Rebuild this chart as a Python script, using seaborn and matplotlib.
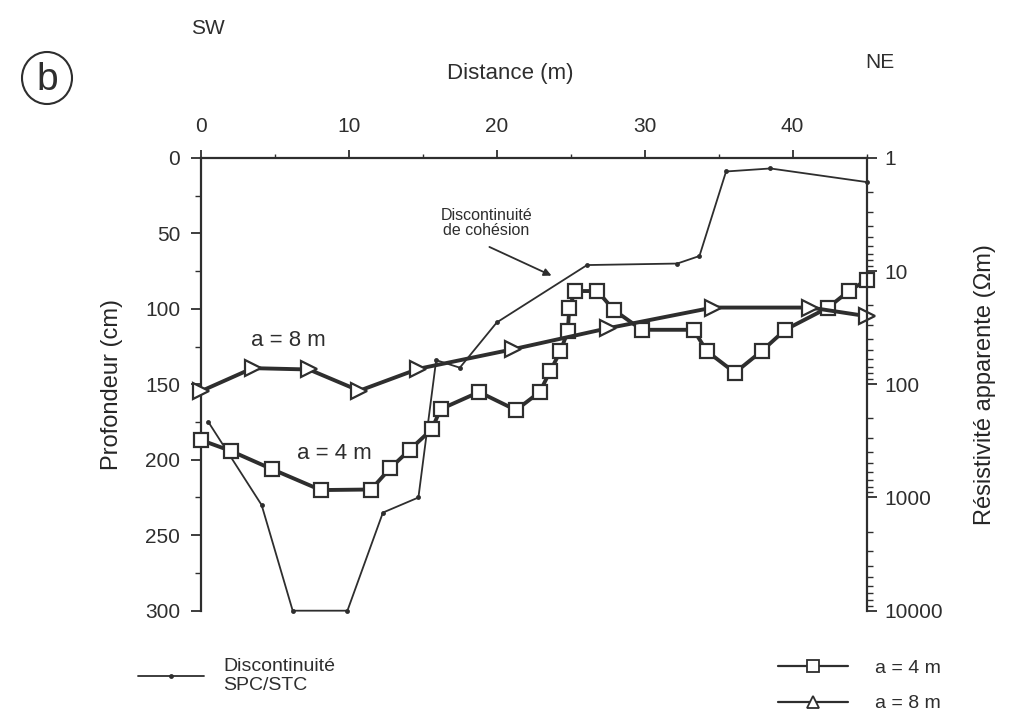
import matplotlib
matplotlib.use("Agg")
import matplotlib.pyplot as plt
import seaborn as sns
from matplotlib.lines import Line2D
from matplotlib.patches import Ellipse
from matplotlib.ticker import MultipleLocator, LogLocator, NullFormatter, FixedLocator

# --- data ---
# discontinuité SPC/STC (depth, cm) along the profile
disc_x = [0.5, 4.1, 6.2, 9.9, 12.3, 14.7, 15.9, 17.5, 20.0, 26.1, 32.2, 33.7, 35.5, 38.5, 45.0]
disc_depth = [175, 230, 300, 300, 235, 225, 134, 139, 109, 71, 70, 65, 9, 7, 16]

# apparent resistivity (ohm.m), Wenner a = 4 m
a4_x = [0, 2.0, 4.8, 8.1, 11.5, 12.8, 14.1, 15.6, 16.2, 18.8, 21.3, 22.9, 23.6, 24.3,
        24.8, 24.9, 25.3, 26.8, 27.9, 29.8, 33.3, 34.2, 36.1, 37.9, 39.5, 42.4, 43.8, 45.0]
a4_rho = [311, 387, 562, 860, 850, 550, 380, 250, 166, 117, 169, 117, 77, 51,
          34, 21, 15, 15, 22, 33, 33, 51, 79, 51, 33, 21, 15, 12]

# apparent resistivity (ohm.m), a = 8 m
a8_x = [0, 3.5, 7.3, 10.7, 14.7, 21.1, 27.5, 34.6, 41.2, 45.0]
a8_rho = [115, 72, 74, 114, 73, 49, 32, 21, 21, 25]

dist_ticks = [0, 10, 20, 30, 40]
depth_ticks = [0, 50, 100, 150, 200, 250, 300]
rho_ticks = [1, 10, 100, 1000, 10000]

ink = "#2e2e2e"

sns.set_theme(style="white")
plt.rcParams["font.family"] = ["Liberation Sans", "DejaVu Sans"]
plt.rcParams["text.color"] = ink
plt.rcParams["axes.edgecolor"] = ink
plt.rcParams["xtick.color"] = ink
plt.rcParams["ytick.color"] = ink

fig = plt.figure(figsize=(10.10, 7.21), dpi=100)
ax = fig.add_axes([0.199, 0.153, 0.659, 0.628])
ax2 = ax.twinx()

# discontinuity line on depth axis
sns.lineplot(x=disc_x, y=disc_depth, ax=ax, sort=False, estimator=None, color=ink,
             linewidth=1.3, marker="o", markersize=3.5, markeredgewidth=0, clip_on=False)

# resistivity on log axis
sns.lineplot(x=a4_x, y=a4_rho, ax=ax2, sort=False, estimator=None, color=ink,
             linewidth=2.8, marker="s", markersize=10, markerfacecolor="white",
             markeredgecolor=ink, markeredgewidth=1.6, clip_on=False)
sns.lineplot(x=a8_x, y=a8_rho, ax=ax2, sort=False, estimator=None, color=ink,
             linewidth=2.8, marker=">", markersize=12, markerfacecolor="white",
             markeredgecolor=ink, markeredgewidth=1.6, clip_on=False)

# left / top axes
ax.set_xlim(0, 45)
ax.set_ylim(300, 0)
ax.xaxis.tick_top()
ax.xaxis.set_major_locator(FixedLocator(dist_ticks))
ax.xaxis.set_minor_locator(MultipleLocator(5))
ax.yaxis.set_major_locator(FixedLocator(depth_ticks))
ax.yaxis.set_minor_locator(MultipleLocator(25))
ax.tick_params(axis="x", which="major", direction="out", length=6, width=1.3, labelsize=15, pad=10)
ax.tick_params(axis="x", which="minor", direction="out", length=3, width=1.0)
ax.tick_params(axis="y", which="major", direction="out", length=7, width=1.3, labelsize=15, pad=8)
ax.tick_params(axis="y", which="minor", direction="out", length=4, width=1.0)
ax.tick_params(left=True, top=True, bottom=False, labelbottom=False, labeltop=True)
for side in ["bottom", "right"]:
    ax.spines[side].set_visible(False)
for side in ["left", "top"]:
    ax.spines[side].set_linewidth(1.6)
ax.set_ylabel("Profondeur (cm)", fontsize=17, labelpad=16)
ax.set_xlabel("")

# right log axis
ax2.set_yscale("log")
ax2.set_ylim(10000, 1)
ax2.yaxis.set_major_locator(FixedLocator(rho_ticks))
ax2.yaxis.set_minor_locator(LogLocator(base=10, subs=range(2, 10)))
ax2.yaxis.set_minor_formatter(NullFormatter())
ax2.set_yticklabels([str(v) for v in rho_ticks])
ax2.tick_params(axis="y", which="major", direction="out", length=7, width=1.3, labelsize=15, pad=6)
ax2.tick_params(axis="y", which="minor", direction="out", length=4, width=1.0)
for side in ["bottom", "left", "top"]:
    ax2.spines[side].set_visible(False)
ax2.spines["right"].set_linewidth(1.6)
ax2.set_ylabel("Résistivité apparente (Ωm)", fontsize=17, labelpad=22)
ax2.grid(False)
ax.grid(False)

# in-plot labels
ax.text(5.9, 121, "a = 8 m", fontsize=16, ha="center", va="center")
ax.text(9.0, 196, "a = 4 m", fontsize=16, ha="center", va="center")
ax.text(19.3, 43, "Discontinuité\nde cohésion", fontsize=11.5, ha="center", va="center",
        linespacing=1.0)
ax.annotate("", xy=(23.7, 78), xytext=(19.5, 59),
            arrowprops=dict(arrowstyle="-|>", color=ink, lw=1.3,
                            shrinkA=0, shrinkB=0, mutation_scale=11))

# header texts
fig.text(208 / 1010, 1 - 28 / 721, "SW", fontsize=15, ha="center", va="center")
fig.text(880 / 1010, 1 - 62 / 721, "NE", fontsize=15, ha="center", va="center")
fig.text(510 / 1010, 1 - 73 / 721, "Distance (m)", fontsize=16, ha="center", va="center")
fig.text(47 / 1010, 1 - 80 / 721, "b", fontsize=28, ha="center", va="center")
fig.add_artist(Ellipse((47 / 1010, 1 - 78 / 721), 50 / 1010, 52 / 721,
                       transform=fig.transFigure, fill=False, edgecolor=ink, linewidth=1.5))

# legends
h_disc = Line2D([], [], color=ink, linewidth=1.3, marker="o", markersize=3.5, markeredgewidth=0)
fig.legend(handles=[h_disc], labels=["Discontinuité\nSPC/STC"],
           loc="center left", bbox_to_anchor=(120 / 1010, 1 - 676 / 721),
           frameon=False, fontsize=14, handlelength=3.4, handletextpad=1.0)

h_a4 = Line2D([], [], color=ink, linewidth=1.6, marker="s", markersize=8,
              markerfacecolor="white", markeredgecolor=ink, markeredgewidth=1.3)
h_a8 = Line2D([], [], color=ink, linewidth=1.6, marker="^", markersize=9,
              markerfacecolor="white", markeredgecolor=ink, markeredgewidth=1.3)
fig.legend(handles=[h_a4, h_a8], labels=["a = 4 m", "a = 8 m"],
           loc="center left", bbox_to_anchor=(760 / 1010, 1 - 686 / 721),
           frameon=False, fontsize=14, handlelength=3.6, handletextpad=1.4,
           labelspacing=0.9)

fig.savefig("out.png", dpi=100)
